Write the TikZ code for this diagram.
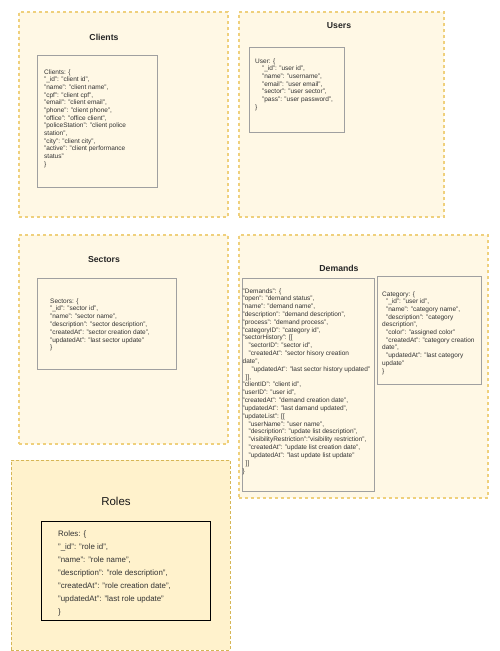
\documentclass[tikz,border=0pt]{standalone}
\usepackage{fontspec}
\setmainfont{Liberation Sans}
\definecolor{outerfill}{HTML}{FFF8E5}
\definecolor{outerdraw}{HTML}{EFD07C}
\definecolor{rolesfill}{HTML}{FFF2CC}
\definecolor{rolesdraw}{HTML}{D6B656}
\definecolor{innerdraw}{HTML}{A0A0A0}
\definecolor{txtgray}{HTML}{333333}
\tikzset{
  outerbox/.style={rectangle, fill=outerfill, draw=outerdraw, line width=1.6pt, dash pattern=on 3pt off 3pt, anchor=north west, inner sep=0},
  rolesbox/.style={rectangle, fill=rolesfill, draw=rolesdraw, line width=0.8pt, dash pattern=on 3pt off 2pt, anchor=north west, inner sep=0},
  innerbox/.style={rectangle, fill=outerfill, draw=innerdraw, line width=1.1pt, anchor=north west, inner sep=0},
  rolesinner/.style={rectangle, fill=rolesfill, draw=black, line width=1.2pt, anchor=north west, inner sep=0},
  boxtitle/.style={font=\fontsize{8.7}{10}\selectfont\bfseries, text=black!85, inner sep=0},
  rolestitle/.style={font=\fontsize{11.5}{13}\selectfont, text=black!90, inner sep=0},
  code/.style={font=\fontsize{6.5}{7.8}\selectfont, text=txtgray, inner sep=0, anchor=base west},
  rolescode/.style={font=\fontsize{7.9}{9}\selectfont, text=txtgray, inner sep=0, anchor=base west},
}
\begin{document}
\begin{tikzpicture}[x=1pt, y=-1pt]
\useasboundingbox (0,0) rectangle (499,651);
% outer containers
\node[outerbox, minimum width=209pt, minimum height=205pt] (clientsbox) at (18,11) {};
\node[outerbox, minimum width=205pt, minimum height=205pt] (usersbox) at (238,11) {};
\node[outerbox, minimum width=209pt, minimum height=209pt] (sectorsbox) at (18,234) {};
\node[outerbox, minimum width=249pt, minimum height=263pt] (demandsbox) at (238,234) {};
\node[rolesbox, minimum width=219pt, minimum height=190pt] (rolesbox) at (11,460) {};
% inner boxes
\node[innerbox, minimum width=120pt, minimum height=132pt] (clientsin) at (37,55) {};
\node[innerbox, minimum width=95pt, minimum height=85pt] (usersin) at (249,47) {};
\node[innerbox, minimum width=139pt, minimum height=91pt] (sectorsin) at (37,278) {};
\node[innerbox, minimum width=132pt, minimum height=213pt] (demandsin) at (242,278) {};
\node[innerbox, minimum width=104pt, minimum height=108pt] (categoryin) at (377,276) {};
\node[rolesinner, minimum width=169pt, minimum height=99pt] (rolesin) at (41,521) {};
% titles
\node[boxtitle] (clientstitle) at (104,37) {Clients};
\node[boxtitle] (userstitle) at (339,26) {Users};
\node[boxtitle] (sectorstitle) at (104,260) {Sectors};
\node[boxtitle] (demandstitle) at (339,268) {Demands};
\node[rolestitle] (rolestitle) at (116,501) {Roles};
% clients text
\foreach \txt [count=\i from 0] in {
  {Clients: \{},
  {"\_id": "client id",},
  {"name": "client name",},
  {"cpf": "client cpf",},
  {"email": "client email",},
  {"phone": "client phone",},
  {"office": "office client",},
  {"policeStation": "client police},
  {station",},
  {"city": "client city",},
  {"active": "client performance},
  {status"},
  {\}}}
  \node[code] (cl\i) at (44, 74+\i*7.67) {\txt};
% users text
\foreach \txt [count=\i from 0] in {
  {User: \{},
  {\hspace*{7pt}"\_id": "user id",},
  {\hspace*{7pt}"name": "username",},
  {\hspace*{7pt}"email": "user email",},
  {\hspace*{7pt}"sector": "user sector",},
  {\hspace*{7pt}"pass": "user password",},
  {\}}}
  \node[code] (us\i) at (255, 63+\i*7.67) {\txt};
% sectors text
\foreach \txt [count=\i from 0] in {
  {Sectors: \{},
  {"\_id": "sector id",},
  {"name": "sector name",},
  {"description": "sector description",},
  {"createdAt": "sector creation date",},
  {"updatedAt": "last sector update"},
  {\}}}
  \node[code] (se\i) at (50, 303+\i*7.8) {\txt};
% demands text
\foreach \txt [count=\i from 0] in {
  {"Demands": \{},
  {"open": "demand status",},
  {"name": "demand name",},
  {"description": "demand description",},
  {"process": "demand process",},
  {"categoryID": "category id",},
  {"sectorHistory": [[},
  {\hspace*{6pt}"sectorID": "sector id",},
  {\hspace*{6pt}"createdAt": "sector hisory creation},
  {date",},
  {\hspace*{9pt}"updatedAt": "last sector history updated"},
  {\hspace*{3pt}]],},
  {"clientID": "client id",},
  {"userID": "user id",},
  {"createdAt": "demand creation date",},
  {"updatedAt": "last damand updated",},
  {"updateList": [[},
  {\hspace*{6pt}"userName": "user name",},
  {\hspace*{6pt}"description": "update list description",},
  {\hspace*{6pt}"visibilityRestriction":"visibility restriction",},
  {\hspace*{6pt}"createdAt": "update list creation date",},
  {\hspace*{6pt}"updatedAt": "last update list update"},
  {\hspace*{3pt}]]},
  {\}}}
  \node[code] (de\i) at (242.5, 293+\i*7.83) {\txt};
% category text
\foreach \txt [count=\i from 0] in {
  {Category: \{},
  {\hspace*{4pt}"\_id": "user id",},
  {\hspace*{4pt}"name": "category name",},
  {\hspace*{4pt}"description": "category},
  {description",},
  {\hspace*{4pt}"color": "assigned color"},
  {\hspace*{4pt}"createdAt": "category creation},
  {date",},
  {\hspace*{4pt}"updatedAt": "last category},
  {update"},
  {\}}}
  \node[code] (ca\i) at (382, 296+\i*7.7) {\txt};
% roles text
\foreach \txt [count=\i from 0] in {
  {Roles: \{},
  {"\_id": "role id",},
  {"name": "role name",},
  {"description": "role description",},
  {"createdAt": "role creation date",},
  {"updatedAt": "last role update"},
  {\}}}
  \node[rolescode] (ro\i) at (58, 536+\i*13) {\txt};
\end{tikzpicture}
\end{document}
